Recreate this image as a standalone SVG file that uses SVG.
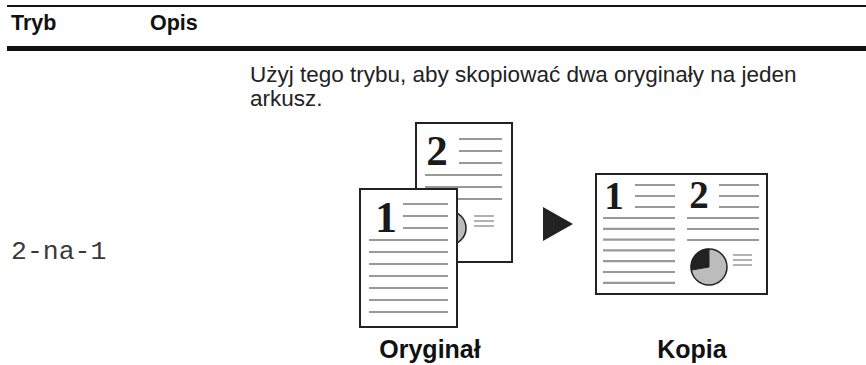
<svg xmlns="http://www.w3.org/2000/svg" width="866" height="365" viewBox="0 0 866 365">
  <style>
    .hdr { font-family: "Liberation Sans", Arial, sans-serif; font-weight: bold; font-size: 21.5px; fill: #111; }
    .body { font-family: "Liberation Sans", Arial, sans-serif; font-size: 22.5px; fill: #222; }
    .mono { font-family: "Liberation Mono", "Courier New", monospace; font-size: 26.5px; fill: #3a3a3a; }
    .cap { font-family: "Liberation Sans", Arial, sans-serif; font-weight: bold; font-size: 25px; fill: #111; text-anchor: middle; }
    .digit { font-family: "Liberation Serif", "Times New Roman", serif; font-weight: bold; fill: #1a1a1a; text-anchor: middle; }
    .page { fill: #fff; stroke: #222; stroke-width: 2; }
    .ln { stroke: #999; stroke-width: 2.2; fill: none; }
    .sm { stroke: #999; stroke-width: 1.6; fill: none; }
    .pie { fill: #bcbcbc; stroke: #222; stroke-width: 1.5; }
    .wedge { fill: #222; stroke: #222; stroke-width: 1; }
  </style>

  <!-- table header rules -->
  <rect x="7" y="5" width="859" height="2" fill="#111"/>
  <rect x="7" y="46" width="859" height="5" fill="#111"/>
  <text class="hdr" x="11" y="30">Tryb</text>
  <text class="hdr" x="150" y="30">Opis</text>

  <!-- description -->
  <text class="body" x="250" y="82">Użyj tego trybu, aby skopiować dwa oryginały na jeden</text>
  <text class="body" x="250" y="106">arkusz.</text>

  <!-- mode name -->
  <text class="mono" x="11" y="259">2-na-1</text>

  <!-- back original: page 2 -->
  <g id="page2">
    <rect class="page" x="416" y="123" width="96" height="139"/>
    <text class="digit" x="437" y="165" font-size="43">2</text>
    <path class="ln" d="M459 139H502M459 151H502M459 163H502M425 175H502M425 187H502M425 199H502"/>
    <circle class="pie" cx="449" cy="228" r="17"/>
    <path class="wedge" d="M449 228L449 211A17 17 0 0 0 432.3 231Z"/>
    <path class="sm" d="M474 216H494M474 221H494M474 226H494"/>
  </g>

  <!-- front original: page 1 -->
  <g id="page1">
    <rect class="page" x="360" y="189" width="97" height="138"/>
    <text class="digit" x="386" y="232" font-size="44">1</text>
    <path class="ln" d="M403 204H448M403 216H448M403 228H448M369 240H448M369 252H448M369 264H448M369 276H448M369 288H448M369 300H448M369 312H448"/>
  </g>

  <text class="cap" x="430" y="358">Oryginał</text>

  <!-- direction arrow -->
  <g id="connectors">
    <polygon points="543,207 543,241 573,224" fill="#222"/>
  </g>

  <!-- resulting copy -->
  <g id="copy">
    <rect class="page" x="596" y="174" width="171" height="120"/>
    <text class="digit" x="614" y="209" font-size="39">1</text>
    <text class="digit" x="699" y="208" font-size="39">2</text>
    <path class="ln" d="M635 185H675M635 196H675M635 207H675M603 218H675M603 228.8H675M603 239.6H675M603 250.4H675M603 261.2H675M603 272H675M603 282.8H675"/>
    <path class="ln" d="M719 185H759M719 196H759M719 207H759M687 218H759M687 229H759M687 240H759"/>
    <circle class="pie" cx="709" cy="267" r="18"/>
    <path class="wedge" d="M709 267L709 249A18 18 0 0 0 691.3 270.1Z"/>
    <path class="sm" d="M733 255H752M733 260H752M733 265H752"/>
  </g>

  <text class="cap" x="692" y="358">Kopia</text>
</svg>
